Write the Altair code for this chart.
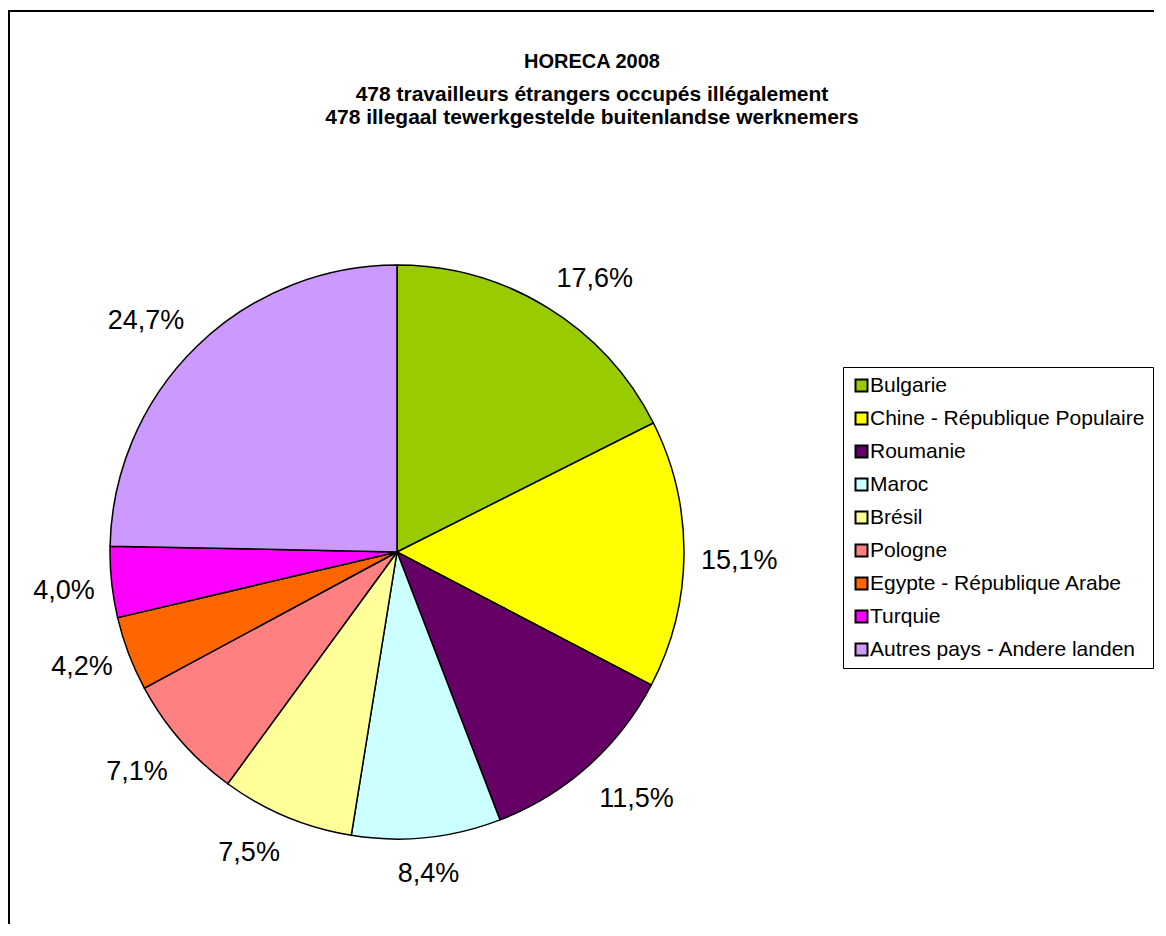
import altair as alt
import pandas as pd

categories = [
    "Bulgarie",
    "Chine - République Populaire",
    "Roumanie",
    "Maroc",
    "Brésil",
    "Pologne",
    "Egypte - République Arabe",
    "Turquie",
    "Autres pays - Andere landen",
]
values = [17.6, 15.1, 11.5, 8.4, 7.5, 7.1, 4.2, 4.0, 24.7]
labels = ["17,6%", "15,1%", "11,5%", "8,4%", "7,5%", "7,1%", "4,2%", "4,0%", "24,7%"]
colors = ["#99CC00", "#FFFF00", "#660066", "#CCFFFF", "#FFFF99",
          "#FF8080", "#FF6600", "#FF00FF", "#CC99FF"]

title_text = "HORECA 2008"
subtitle_lines = [
    "478 travailleurs étrangers occupés illégalement",
    "478 illegaal tewerkgestelde buitenlandse werknemers",
]

df = pd.DataFrame({
    "country": categories,
    "value": values,
    "label": labels,
    "idx": list(range(len(categories))),
})

FONT = "Liberation Sans"
CX, CY, R = 385, 540, 287

base = alt.Chart(df)

pie = base.mark_arc(outerRadius=R, stroke="black", strokeWidth=1.5).encode(
    theta=alt.Theta("value:Q", stack=True),
    order=alt.Order("idx:Q"),
    color=alt.Color(
        "country:N",
        scale=alt.Scale(domain=categories, range=colors),
        title=None,
        legend=alt.Legend(
            orient="none",
            legendX=831,
            legendY=355,
            symbolType="square",
            symbolSize=144,
            symbolStrokeColor="black",
            symbolStrokeWidth=2,
            symbolOpacity=1,
            labelFont=FONT,
            labelFontSize=21,
            labelColor="black",
            labelLimit=500,
            labelOffset=alt.ExprRef(expr="-2"),
            rowPadding=11,
            padding=8,
            strokeColor="black",
            fillColor="white",
        ),
    ),
    x=alt.value(CX),
    y=alt.value(CY),
)

# label anchored by its corner nearest the pie (like spreadsheet data labels)
mid = "scale('theta', (datum.value_start + datum.value_end) / 2)"
align_expr = f"sin({mid}) > 0.25 ? 'left' : (sin({mid}) < -0.25 ? 'right' : 'center')"
base_expr = f"cos({mid}) > 0.25 ? 'bottom' : (cos({mid}) < -0.4 ? 'top' : 'middle')"
dy_expr = f"cos({mid}) > 0.25 ? 0 : 7"

text = base.mark_text(
    radius=304, font=FONT, fontSize=27, color="black",
    align=alt.ExprRef(expr=align_expr),
    baseline=alt.ExprRef(expr=base_expr),
    dy=alt.ExprRef(expr=dy_expr),
).encode(
    theta=alt.Theta("value:Q", stack=True),
    order=alt.Order("idx:Q"),
    text="label:N",
    x=alt.value(CX),
    y=alt.value(CY),
)

one = alt.Data(values=[{}])

title = alt.Chart(one).mark_text(font=FONT, fontSize=20, fontWeight="bold",
                                 color="black").encode(
    text=alt.value(title_text), x=alt.value(580), y=alt.value(50))
sub1 = alt.Chart(one).mark_text(font=FONT, fontSize=21, fontWeight="bold",
                                color="black").encode(
    text=alt.value(subtitle_lines[0]), x=alt.value(580), y=alt.value(83))
sub2 = alt.Chart(one).mark_text(font=FONT, fontSize=21, fontWeight="bold",
                                color="black").encode(
    text=alt.value(subtitle_lines[1]), x=alt.value(580), y=alt.value(106))

frame = alt.Chart(one).mark_rect(fill="white", stroke="black", strokeWidth=2).encode(
    x=alt.value(-3), x2=alt.value(1300), y=alt.value(-1), y2=alt.value(1300))

chart = alt.layer(frame, pie, text, title, sub1, sub2).properties(
    width=1146 - 4,
    height=912,
    padding={"left": 4, "top": 4, "right": 0, "bottom": 0},
    autosize=alt.AutoSizeParams(type="none"),
).configure_view(stroke=None)

chart.save("out.html", embed_options={"renderer": "svg", "actions": False})
